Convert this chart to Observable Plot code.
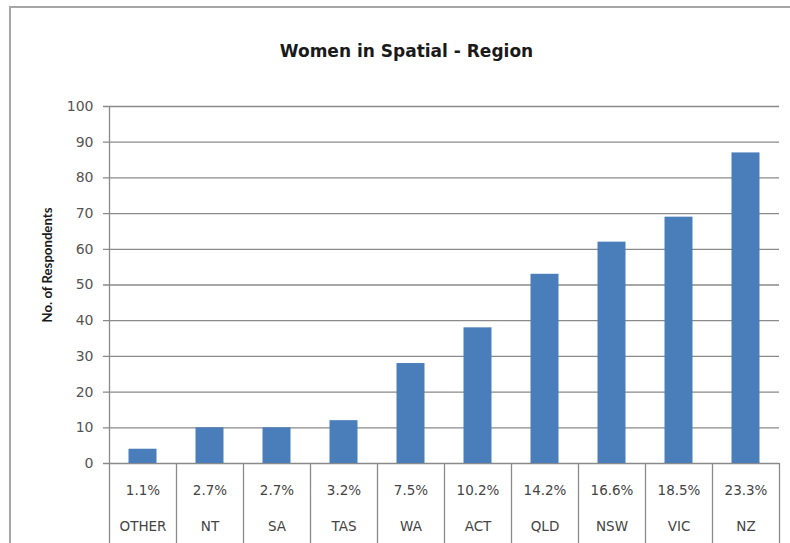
<!DOCTYPE html>
<html>
<head>
<meta charset="utf-8">
<script src="https://cdn.jsdelivr.net/npm/d3@7"></script>
<script src="https://cdn.jsdelivr.net/npm/@observablehq/plot@0.6"></script>
<style>
  html, body { margin: 0; padding: 0; background: #fff; }
  #wrap { position: relative; width: 790px; height: 543px; overflow: hidden; }
  #border { position: absolute; left: 9px; top: 6px; right: -5px; bottom: -5px;
            border-top: 2px solid #a6a6a6; border-left: 2px solid #a6a6a6; pointer-events: none; }
</style>
</head>
<body>
<div id="wrap"><div id="border"></div></div>
<script>
const regions = ["OTHER", "NT", "SA", "TAS", "WA", "ACT", "QLD", "NSW", "VIC", "NZ"];
const respondents = [4, 10, 10, 12, 28, 38, 53, 62, 69, 87];
const shares = ["1.1%", "2.7%", "2.7%", "3.2%", "7.5%", "10.2%", "14.2%", "16.6%", "18.5%", "23.3%"];
const yTicks = [0, 10, 20, 30, 40, 50, 60, 70, 80, 90, 100];
const title = "Women in Spatial - Region";
const yLabel = "No. of Respondents";

const data = regions.map((r, i) => ({region: r, n: respondents[i], pct: shares[i]}));

const W = 790, H = 543, mL = 109, mR = 11, mT = 106, mB = 80;
const step = (W - mL - mR) / regions.length;
const frameH = H - mT - mB;
const lineColor = "#8a8a8a";

const chart = Plot.plot({
  width: W, height: H,
  marginLeft: mL, marginRight: mR, marginTop: mT, marginBottom: mB,
  style: {fontFamily: "DejaVu Sans", background: "transparent", overflow: "visible"},
  x: {domain: regions, padding: 0, axis: null},
  y: {domain: [0, 100], axis: null},
  marks: [
    Plot.ruleY(yTicks, {stroke: lineColor, strokeWidth: 1.3, insetLeft: -6}),
    Plot.barY(data, {x: "region", y: "n", fill: "#4a7ebb", insetLeft: 19.5, insetRight: 19.5}),
    // left axis line, continuing down through the table
    Plot.ruleX([regions[0]], {x: d => d, dx: -step / 2, stroke: lineColor, strokeWidth: 1.3, insetBottom: -mB}),
    // table column separators
    Plot.ruleX(regions.slice(1), {x: d => d, dx: -step / 2, stroke: lineColor, strokeWidth: 1.3, insetTop: frameH, insetBottom: -mB}),
    Plot.ruleX([regions[regions.length - 1]], {x: d => d, dx: step / 2, stroke: lineColor, strokeWidth: 1.3, insetTop: frameH, insetBottom: -mB}),
    Plot.axisY(yTicks, {tickSize: 0, tickPadding: 16, fontSize: 14, fill: "#555", letterSpacing: "1px", label: null}),
    Plot.text(data, {x: "region", text: "pct", frameAnchor: "bottom", dy: 31, fontSize: 13.5, fill: "#444", letterSpacing: "1.3px"}),
    Plot.text(data, {x: "region", text: "region", frameAnchor: "bottom", dy: 67, fontSize: 13.5, fill: "#444", letterSpacing: "0.5px"}),
    Plot.text([title], {frameAnchor: "top", dy: -62, dx: -38, fontSize: 17, fontWeight: "bold", fill: "#1a1a1a"}),
    Plot.text([yLabel], {frameAnchor: "left", textAnchor: "middle", dx: -62, dy: -20, rotate: -90, fontSize: 13.2, fontWeight: "bold", fontFamily: "Lato", fill: "#1a1a1a"})
  ]
});
chart.style.position = "absolute";
chart.style.left = "0px";
chart.style.top = "0px";
document.getElementById("wrap").prepend(chart);
</script>
</body>
</html>
